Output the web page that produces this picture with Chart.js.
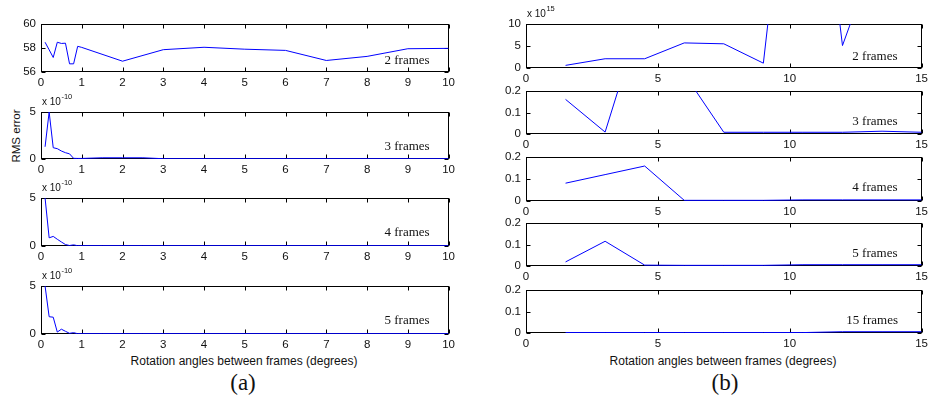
<!DOCTYPE html>
<html>
<head>
<meta charset="utf-8">
<script src="https://cdn.jsdelivr.net/npm/chart.js@4.4.0/dist/chart.umd.min.js"></script>
<style>
  html, body { margin: 0; padding: 0; background: #fff; }
  #fig { position: relative; width: 930px; height: 405px; overflow: hidden; font-family: 'Liberation Sans', Arial, sans-serif; color: #111; }
  #fig canvas { position: absolute; }
  .txt { position: absolute; white-space: nowrap; transform: translate(-50%, -50%); }
  .xlabel { font-size: 12px; }
  .ylabel { font-size: 11.5px; transform: translate(-50%, -50%) rotate(-90deg); }
  .sub { font-family: 'Liberation Serif', 'Times New Roman', serif; font-size: 23px; }
</style>
</head>
<body>
<div id="fig">
  <div class="txt ylabel" style="left:16px; top:136px">RMS error</div>
  <div class="txt xlabel" style="left:244px; top:361px">Rotation angles between frames (degrees)</div>
  <div class="txt xlabel" style="left:723px; top:361px">Rotation angles between frames (degrees)</div>
  <div class="txt sub" style="left:243px; top:383px">(a)</div>
  <div class="txt sub" style="left:725px; top:383px">(b)</div>
</div>
<script>
// (a) rotation angles, degrees
const anglesA2 = [0.1, 0.2, 0.3, 0.4, 0.5, 0.6, 0.7, 0.8, 0.9, 1, 2, 3, 4, 5, 6, 7, 8, 9, 10];
const anglesA = [0.1, 0.2, 0.3, 0.4, 0.5, 0.6, 0.7, 0.8, 0.9, 1, 1.5, 2, 2.5, 3, 4, 5, 6, 7, 8, 9, 10];

// (a) RMS error, 2 frames
const rmsA2 = [58.48, 57.85, 57.21, 58.48, 58.38, 58.4, 56.68, 56.68, 58.14, 58.05, 56.9, 57.86, 58.06, 57.9, 57.8, 56.96, 57.3, 57.94, 57.97];
// (a) RMS error x 1e-10, 3 / 4 / 5 frames
const rmsA3 = [1.3, 5.0, 1.2, 1.1, 0.85, 0.67, 0.55, 0.07, 0.06, 0.06, 0.13, 0.13, 0.13, 0.03, 0.03, 0.03, 0.03, 0.03, 0.03, 0.03, 0.03];
const rmsA4 = [5.0, 0.85, 1.0, 0.7, 0.42, 0.15, 0.05, 0.12, 0.03, 0.03, 0.03, 0.03, 0.03, 0.03, 0.03, 0.03, 0.03, 0.03, 0.03, 0.03, 0.03];
const rmsA5 = [5.0, 1.8, 1.75, 0.2, 0.5, 0.28, 0.07, 0.14, 0.03, 0.03, 0.03, 0.03, 0.03, 0.03, 0.03, 0.03, 0.03, 0.03, 0.03, 0.03, 0.03];

// (b) rotation angles, degrees
const anglesB = [1.5, 3, 4.5, 6, 7.5, 9, 10.5, 12, 13.5, 15];
// (b) RMS error, 2 frames x 1e15, then 3 / 4 / 5 / 15 frames
const rmsB2 = [0.6, 2.1, 2.1, 5.7, 5.5, 1.1, 80, 5.1, 30, 40];
const rmsB3 = [0.161, 0.009, 0.6, 0.28, 0.008, 0.008, 0.008, 0.008, 0.013, 0.008];
const rmsB4 = [0.081, 0.12, 0.159, 0.003, 0.003, 0.003, 0.005, 0.005, 0.005, 0.005];
const rmsB5 = [0.019, 0.115, 0.004, 0.003, 0.003, 0.003, 0.006, 0.006, 0.006, 0.006];
const rmsB15 = [0.002, 0.002, 0.002, 0.002, 0.002, 0.002, 0.002, 0.006, 0.006, 0.006];

// tick labels
const xTicksA = [0, 1, 2, 3, 4, 5, 6, 7, 8, 9, 10];
const xTicksB = [0, 5, 10, 15];
const yTicksA2 = [56, 58, 60];
const yTicksA = [0, 5];
const yTicksB2 = [0, 5, 10];
const yTicksB = [0, 0.1, 0.2];

const PAD_L = 45;
const PAD_T = 22;
const PAD_R = 8;
const PAD_B = 20;
const LINE_COLOR = '#0000ff';
const TICK_FONT = { family: "'Liberation Sans', Arial, sans-serif", size: 11.5 };

const panels = [
  { xs: anglesA2, ys: rmsA2, xTicks: xTicksA, yTicks: yTicksA2, left: 41, top: 24, w: 410, h: 48, label: '2 frames', fx: 0.898, fy: 0.77 },
  { xs: anglesA, ys: rmsA3, xTicks: xTicksA, yTicks: yTicksA, left: 41, top: 112, w: 410, h: 47, label: '3 frames', fx: 0.898, fy: 0.745, exp: '-10' },
  { xs: anglesA, ys: rmsA4, xTicks: xTicksA, yTicks: yTicksA, left: 41, top: 198, w: 410, h: 48, label: '4 frames', fx: 0.898, fy: 0.73, exp: '-10' },
  { xs: anglesA, ys: rmsA5, xTicks: xTicksA, yTicks: yTicksA, left: 41, top: 286, w: 410, h: 48, label: '5 frames', fx: 0.898, fy: 0.71, exp: '-10' },
  { xs: anglesB, ys: rmsB2, xTicks: xTicksB, yTicks: yTicksB2, left: 526, top: 24, w: 398, h: 44, label: '2 frames', fx: 0.882, fy: 0.75, exp: '15' },
  { xs: anglesB, ys: rmsB3, xTicks: xTicksB, yTicks: yTicksB, left: 526, top: 91, w: 398, h: 43, label: '3 frames', fx: 0.882, fy: 0.70 },
  { xs: anglesB, ys: rmsB4, xTicks: xTicksB, yTicks: yTicksB, left: 526, top: 157, w: 398, h: 44, label: '4 frames', fx: 0.882, fy: 0.70 },
  { xs: anglesB, ys: rmsB5, xTicks: xTicksB, yTicks: yTicksB, left: 526, top: 223, w: 398, h: 43, label: '5 frames', fx: 0.882, fy: 0.72 },
  { xs: anglesB, ys: rmsB15, xTicks: xTicksB, yTicks: yTicksB, left: 526, top: 290, w: 398, h: 43, label: '15 frames', fx: 0.875, fy: 0.72 }
];

// MATLAB-like box with inward ticks, drawn under the line
const matlabBox = {
  id: 'matlabBox',
  beforeDatasetsDraw(chart) {
    const { ctx, chartArea: a, scales } = chart;
    const L = Math.round(a.left) + 0.5;
    const R = Math.round(a.right) - 0.5;
    const T = Math.round(a.top) + 0.5;
    const B = Math.round(a.bottom) - 0.5;
    ctx.save();
    ctx.strokeStyle = '#000';
    ctx.lineWidth = 1;
    ctx.strokeRect(L, T, R - L, B - T);
    ctx.beginPath();
    scales.x.ticks.forEach((t) => {
      const px = Math.round(scales.x.getPixelForValue(t.value)) + 0.5;
      ctx.moveTo(px, B); ctx.lineTo(px, B - 4);
      ctx.moveTo(px, T); ctx.lineTo(px, T + 4);
    });
    scales.y.ticks.forEach((t) => {
      const py = Math.round(scales.y.getPixelForValue(t.value)) + 0.5;
      ctx.moveTo(L, py); ctx.lineTo(L + 4, py);
      ctx.moveTo(R, py); ctx.lineTo(R - 4, py);
    });
    ctx.stroke();
    ctx.restore();
  },
  afterDraw(chart, args, opts) {
    const { ctx, chartArea: a } = chart;
    ctx.save();
    ctx.fillStyle = '#111';
    if (opts.label) {
      ctx.font = "13px 'Liberation Serif', 'Times New Roman', serif";
      ctx.textAlign = 'center';
      ctx.textBaseline = 'middle';
      ctx.fillText(opts.label, a.left + opts.fx * (a.right - a.left), a.top + opts.fy * (a.bottom - a.top));
    }
    if (opts.exp) {
      ctx.textAlign = 'left';
      ctx.textBaseline = 'alphabetic';
      ctx.font = "10px 'Liberation Sans', Arial, sans-serif";
      const base = 'x 10';
      ctx.fillText(base, a.left + 1, a.top - 7);
      const w = ctx.measureText(base).width;
      ctx.font = "7.5px 'Liberation Sans', Arial, sans-serif";
      ctx.fillText(opts.exp, a.left + 1 + w + 0.5, a.top - 13);
    }
    ctx.restore();
  }
};

const fig = document.getElementById('fig');

panels.forEach((p) => {
  const canvas = document.createElement('canvas');
  canvas.width = p.w + PAD_L + PAD_R;
  canvas.height = p.h + PAD_T + PAD_B;
  canvas.style.left = (p.left - PAD_L) + 'px';
  canvas.style.top = (p.top - PAD_T) + 'px';
  fig.appendChild(canvas);

  const xMin = p.xTicks[0];
  const xMax = p.xTicks[p.xTicks.length - 1];
  const yMin = p.yTicks[0];
  const yMax = p.yTicks[p.yTicks.length - 1];

  new Chart(canvas, {
    type: 'line',
    data: {
      datasets: [{
        data: p.xs.map((x, i) => ({ x, y: p.ys[i] })),
        borderColor: LINE_COLOR,
        borderWidth: 1,
        pointRadius: 0,
        tension: 0,
        fill: false
      }]
    },
    options: {
      responsive: false,
      animation: false,
      events: [],
      layout: { padding: { left: 0, top: PAD_T, right: PAD_R, bottom: 0 } },
      plugins: {
        legend: { display: false },
        tooltip: { enabled: false },
        matlabBox: { label: p.label, fx: p.fx, fy: p.fy, exp: p.exp }
      },
      scales: {
        x: {
          type: 'linear',
          min: xMin,
          max: xMax,
          afterBuildTicks: (s) => { s.ticks = p.xTicks.map((v) => ({ value: v })); },
          afterFit: (s) => { s.height = PAD_B; },
          grid: { display: false, drawTicks: false },
          border: { display: false },
          ticks: { font: TICK_FONT, color: '#111', padding: 4, maxRotation: 0, autoSkip: false, callback: (v) => String(v) }
        },
        y: {
          type: 'linear',
          min: yMin,
          max: yMax,
          afterBuildTicks: (s) => { s.ticks = p.yTicks.map((v) => ({ value: v })); },
          afterFit: (s) => { s.width = PAD_L; },
          grid: { display: false, drawTicks: false },
          border: { display: false },
          ticks: { font: TICK_FONT, color: '#111', padding: 5, autoSkip: false, callback: (v) => String(v) }
        }
      }
    },
    plugins: [matlabBox]
  });
});
</script>
</body>
</html>
